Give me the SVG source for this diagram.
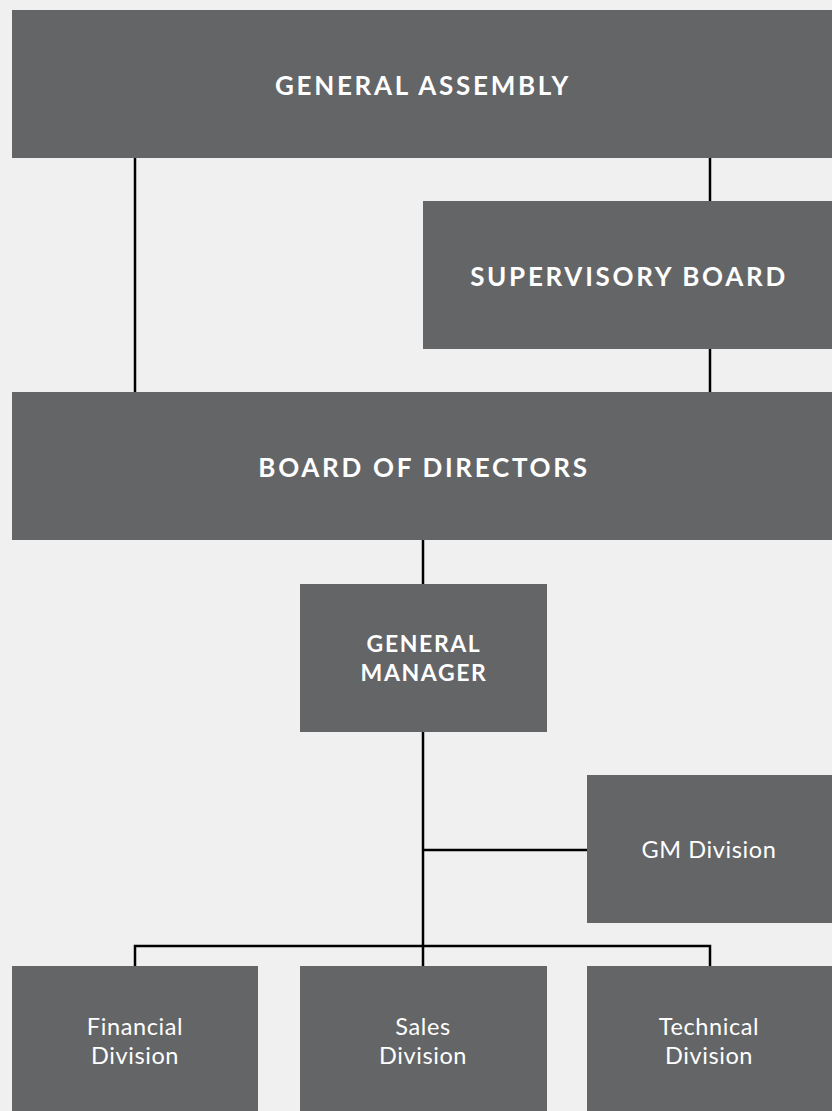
<svg xmlns="http://www.w3.org/2000/svg" width="832" height="1111" viewBox="0 0 832 1111">
<style>
.box{fill:#646567}
.h{font-family:Lato,"Liberation Sans",sans-serif;font-weight:700;fill:#ffffff;text-anchor:middle;letter-spacing:2.7px}
.g{letter-spacing:1.6px}
.t{font-family:Lato,"Liberation Sans",sans-serif;font-weight:400;fill:#ffffff;text-anchor:middle;font-size:23.5px;letter-spacing:0.6px}
.ln{stroke:#000;stroke-width:2.5;fill:none}
</style>
<rect width="832" height="1111" fill="#f0f0f0"/>
<g id="connectors">
<path class="ln" d="M135 158V392"/>
<path class="ln" d="M710 158V201M710 349V392"/>
<path class="ln" d="M423 540V584"/>
<path class="ln" d="M423 732V966"/>
<path class="ln" d="M423 850H587"/>
<path class="ln" d="M135 966V946H710V966"/>
</g>
<g id="general-assembly"><rect class="box" x="12" y="10" width="820" height="148"/><text class="h" x="423" y="95" font-size="26">GENERAL ASSEMBLY</text></g>
<g id="supervisory-board"><rect class="box" x="423" y="201" width="409" height="148"/><text class="h" x="629" y="286" font-size="26">SUPERVISORY BOARD</text></g>
<g id="board-of-directors"><rect class="box" x="12" y="392" width="820" height="148"/><text class="h" x="424" y="477" font-size="26">BOARD OF DIRECTORS</text></g>
<g id="general-manager"><rect class="box" x="300" y="584" width="247" height="148"/><text class="h g" x="424" y="652" font-size="23">GENERAL</text><text class="h g" x="424" y="681" font-size="23">MANAGER</text></g>
<g id="gm-division"><rect class="box" x="587" y="775" width="245" height="148"/><text class="t" x="709" y="858">GM Division</text></g>
<g id="financial-division"><rect class="box" x="12" y="966" width="246" height="145"/><text class="t" x="135" y="1035">Financial</text><text class="t" x="135" y="1064">Division</text></g>
<g id="sales-division"><rect class="box" x="300" y="966" width="247" height="145"/><text class="t" x="423" y="1035">Sales</text><text class="t" x="423" y="1064">Division</text></g>
<g id="technical-division"><rect class="box" x="587" y="966" width="245" height="145"/><text class="t" x="709" y="1035">Technical</text><text class="t" x="709" y="1064">Division</text></g>
</svg>
